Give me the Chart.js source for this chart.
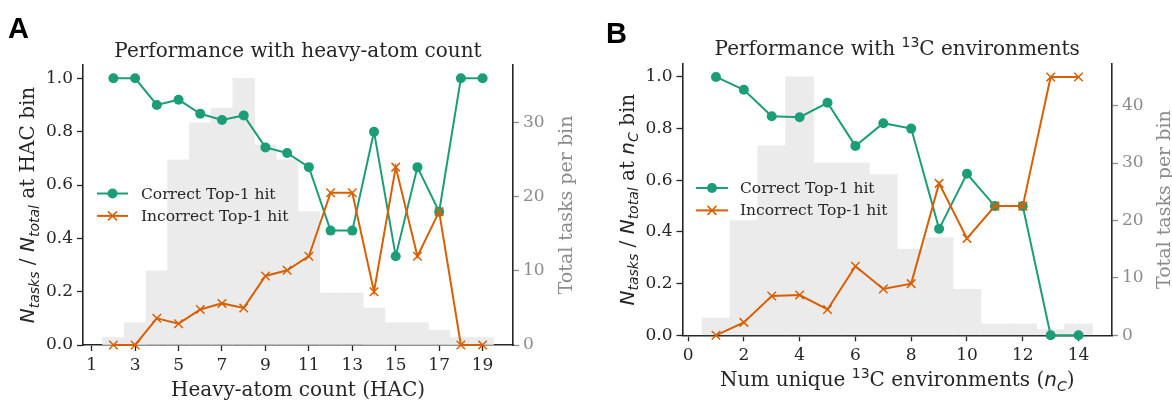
<!DOCTYPE html>
<html><head><meta charset="utf-8">
<script src="https://cdn.jsdelivr.net/npm/chart.js@4/dist/chart.umd.min.js"></script>
<style>
html,body{margin:0;padding:0;background:#fff;width:1172px;height:401px;overflow:hidden}
canvas{position:absolute;top:0}
#cA{left:0}
#cB{left:590px}
</style></head><body>
<canvas id="cA" width="590" height="401"></canvas>
<canvas id="cB" width="582" height="401"></canvas>
<script>
// ---------- data ----------
const hacBins = [2,3,4,5,6,7,8,9,10,11,12,13,14,15,16,17,18,19];
const hacCounts = [1,3,10,25,30,32,36,27,25,18,7,7,5,3,3,2,1,1];
const hacCorrect = [1.0,1.0,0.9,0.92,0.867,0.844,0.861,0.741,0.72,0.667,0.429,0.429,0.8,0.333,0.667,0.5,1.0,1.0];
const hacIncorrect = [0,0,0.1,0.08,0.133,0.156,0.139,0.259,0.28,0.333,0.571,0.571,0.2,0.667,0.333,0.5,0,0];
const hacXTicks = [1,3,5,7,9,11,13,15,17,19];
const hacCountTicks = [0,10,20,30];

const ncBins = [1,2,3,4,5,6,7,8,9,10,11,12,13,14];
const ncCounts = [3,20,33,45,30,30,28,15,17,8,2,2,1,2];
const ncCorrect = [1.0,0.95,0.848,0.844,0.9,0.733,0.821,0.8,0.412,0.625,0.5,0.5,0,0];
const ncIncorrect = [0,0.05,0.152,0.156,0.1,0.267,0.179,0.2,0.588,0.375,0.5,0.5,1.0,1.0];
const ncXTicks = [0,2,4,6,8,10,12,14];
const ncCountTicks = [0,10,20,30,40];

const fracTicks = [0,0.2,0.4,0.6,0.8,1.0];

// ---------- styles ----------
const GREEN = '#1b9e77', ORANGE = '#d95f02', INK = '#262626', GREYTXT = '#8c8c8c', BAR = '#ebebeb';
const SERIF = '"DejaVu Serif", serif';
const SANS = '"DejaVu Sans", sans-serif';
const it = (size) => 'italic ' + size + 'px ' + SANS;

function pts(xs, ys){ return xs.map((x,i)=>({x:x, y:ys[i]})); }

function drawRich(ctx, parts, x, y, rot){
  ctx.save();
  ctx.translate(x,y);
  if (rot) ctx.rotate(rot);
  ctx.textBaseline = 'alphabetic';
  ctx.textAlign = 'left';
  let total = 0;
  parts.forEach(p=>{ ctx.font = p.f; p.w = ctx.measureText(p.t).width; total += p.w; });
  let cx = -total/2;
  parts.forEach(p=>{ ctx.font = p.f; ctx.fillStyle = p.c || INK; ctx.fillText(p.t, cx, p.dy||0); cx += p.w; });
  ctx.restore();
}

const textPlugin = {
  id: 'texts',
  afterDraw(chart){
    const o = chart.options.plugins.texts;
    const ctx = chart.ctx;
    ctx.save();
    ctx.font = 'bold 29px "Liberation Sans", Arial, sans-serif';
    ctx.fillStyle = '#000';
    ctx.textBaseline = 'alphabetic';
    ctx.fillText(o.letter, o.letterX, o.letterY);
    ctx.restore();
    const ca = chart.chartArea;
    const cxm = (ca.left + ca.right)/2, cym = (ca.top + ca.bottom)/2;
    drawRich(ctx, o.title, cxm, o.titleY, 0);
    drawRich(ctx, o.xlabel, cxm, o.xlabelY, 0);
    drawRich(ctx, o.ylabel, o.ylabelX, cym, -Math.PI/2);
    drawRich(ctx, [{t:'Total tasks per bin', f:'19px '+SERIF, c:GREYTXT}], o.y2labelX, cym, -Math.PI/2);
    const lg = o.legend;
    const rows = [
      {label:'Correct Top-1 hit', color:GREEN, style:'circle'},
      {label:'Incorrect Top-1 hit', color:ORANGE, style:'x'}
    ];
    rows.forEach((r,i)=>{
      const yy = lg.y + i*lg.dy;
      ctx.save();
      ctx.strokeStyle = r.color; ctx.lineWidth = 2;
      ctx.beginPath(); ctx.moveTo(lg.x1, yy); ctx.lineTo(lg.x2, yy); ctx.stroke();
      const mx = (lg.x1+lg.x2)/2;
      if (r.style==='circle'){
        ctx.fillStyle = r.color; ctx.beginPath(); ctx.arc(mx, yy, 5, 0, Math.PI*2); ctx.fill();
      } else {
        ctx.lineWidth = 1.5; const s = 4.5;
        ctx.beginPath(); ctx.moveTo(mx-s,yy-s); ctx.lineTo(mx+s,yy+s); ctx.moveTo(mx-s,yy+s); ctx.lineTo(mx+s,yy-s); ctx.stroke();
      }
      ctx.font = '15.5px '+SERIF; ctx.fillStyle = INK; ctx.textBaseline = 'middle';
      ctx.fillText(r.label, lg.tx, yy+1);
      ctx.restore();
    });
  }
};

function makeChart(id, cfg){
  const tickFont = {family: SERIF, size: 17};
  return new Chart(document.getElementById(id), {
    data: {
      datasets: [
        {type:'bar', data: pts(cfg.bins, cfg.counts), yAxisID:'y2', backgroundColor: BAR, borderWidth:0,
         barPercentage:1.0, categoryPercentage:1.0, order:3},
        {type:'line', data: pts(cfg.bins, cfg.correct), yAxisID:'y', borderColor: GREEN, backgroundColor: GREEN,
         borderWidth:2, pointStyle:'circle', pointRadius:5, pointBorderWidth:0, pointBackgroundColor: GREEN, clip:false, order:2},
        {type:'line', data: pts(cfg.bins, cfg.incorrect), yAxisID:'y', borderColor: ORANGE, backgroundColor: ORANGE,
         borderWidth:2, pointStyle:'crossRot', pointRadius:6, pointBorderWidth:1.5, pointBorderColor: ORANGE, clip:false, order:1}
      ]
    },
    options: {
      responsive:false, animation:false, devicePixelRatio:1,
      layout:{padding:{left:0,right:0,top:cfg.top,bottom:0}},
      plugins:{legend:{display:false}, tooltip:{enabled:false}, texts: cfg.texts},
      scales:{
        x:{type:'linear', min:cfg.xmin, max:cfg.xmax, offset:false,
           afterBuildTicks:s=>{ s.ticks = cfg.xticks.map(v=>({value:v})); },
           afterFit:s=>{ s.height = cfg.bottomH; },
           ticks:{font:tickFont, color:INK, padding:4, autoSkip:false, maxRotation:0, callback:v=>String(v)},
           grid:{display:true, offset:false, drawOnChartArea:false, drawTicks:true, tickLength:6, tickColor:INK, tickWidth:1.3},
           border:{display:true, color:INK, width:1.6}},
        y:{type:'linear', position:'left', min:0, max:1.05,
           afterBuildTicks:s=>{ s.ticks = fracTicks.map(v=>({value:v})); },
           afterFit:s=>{ s.width = cfg.leftW; },
           ticks:{font:tickFont, color:INK, padding:4, callback:v=>Number(v).toFixed(1)},
           grid:{display:true, drawOnChartArea:false, drawTicks:true, tickLength:6, tickColor:INK, tickWidth:1.3},
           border:{display:true, color:INK, width:1.6}},
        y2:{type:'linear', position:'right', min:0, max:cfg.y2max,
           afterBuildTicks:s=>{ s.ticks = cfg.y2ticks.map(v=>({value:v})); },
           afterFit:s=>{ s.width = cfg.rightW; },
           ticks:{font:tickFont, color:GREYTXT, padding:4, callback:v=>String(v)},
           grid:{display:true, drawOnChartArea:false, drawTicks:true, tickLength:6, tickColor:GREYTXT, tickWidth:1.3},
           border:{display:true, color:INK, width:1.6}}
      }
    },
    plugins:[textPlugin]
  });
}

const sub = s => ({t:s, f:it(14), dy:4.5});
const N = {t:'N', f:it(20)};
const LBL = '20px ' + SERIF;

makeChart('cA', {
  bins:hacBins, counts:hacCounts, correct:hacCorrect, incorrect:hacIncorrect,
  xmin:0.6, xmax:20.4, xticks:hacXTicks, y2max:37.8, y2ticks:hacCountTicks,
  top:65, leftW:83, rightW:77, bottomH:56,
  texts:{
    letter:'A', letterX:8, letterY:38,
    title:[{t:'Performance with heavy-atom count', f:'20px '+SERIF}], titleY:57,
    xlabel:[{t:'Heavy-atom count (HAC)', f:LBL}], xlabelY:396,
    ylabel:[N, sub('tasks'), {t:' / ', f:LBL}, N, sub('total'), {t:' at HAC bin', f:LBL}], ylabelX:34,
    y2labelX:572,
    legend:{x1:97, x2:128, y:193.5, dy:22.4, tx:141}
  }
});

makeChart('cB', {
  bins:ncBins, counts:ncCounts, correct:ncCorrect, incorrect:ncIncorrect,
  xmin:-0.2, xmax:15.2, xticks:ncXTicks, y2max:47.25, y2ticks:ncCountTicks,
  top:64, leftW:92.5, rightW:60, bottomH:65.7,
  texts:{
    letter:'B', letterX:16, letterY:43,
    title:[{t:'Performance with ', f:'20px '+SERIF}, {t:'13', f:'14px '+SANS, dy:-8}, {t:'C environments', f:'20px '+SERIF}], titleY:55,
    xlabel:[{t:'Num unique ', f:LBL}, {t:'13', f:'14px '+SANS, dy:-8}, {t:'C environments (', f:LBL},
            {t:'n', f:it(20)}, sub('C'), {t:')', f:LBL}], xlabelY:386,
    ylabel:[N, sub('tasks'), {t:' / ', f:LBL}, N, sub('total'), {t:' at ', f:LBL},
            {t:'n', f:it(20)}, sub('C'), {t:' bin', f:LBL}], ylabelX:43.5,
    y2labelX:580,
    legend:{x1:106, x2:138, y:188, dy:22.4, tx:150}
  }
});
</script>
</body></html>
